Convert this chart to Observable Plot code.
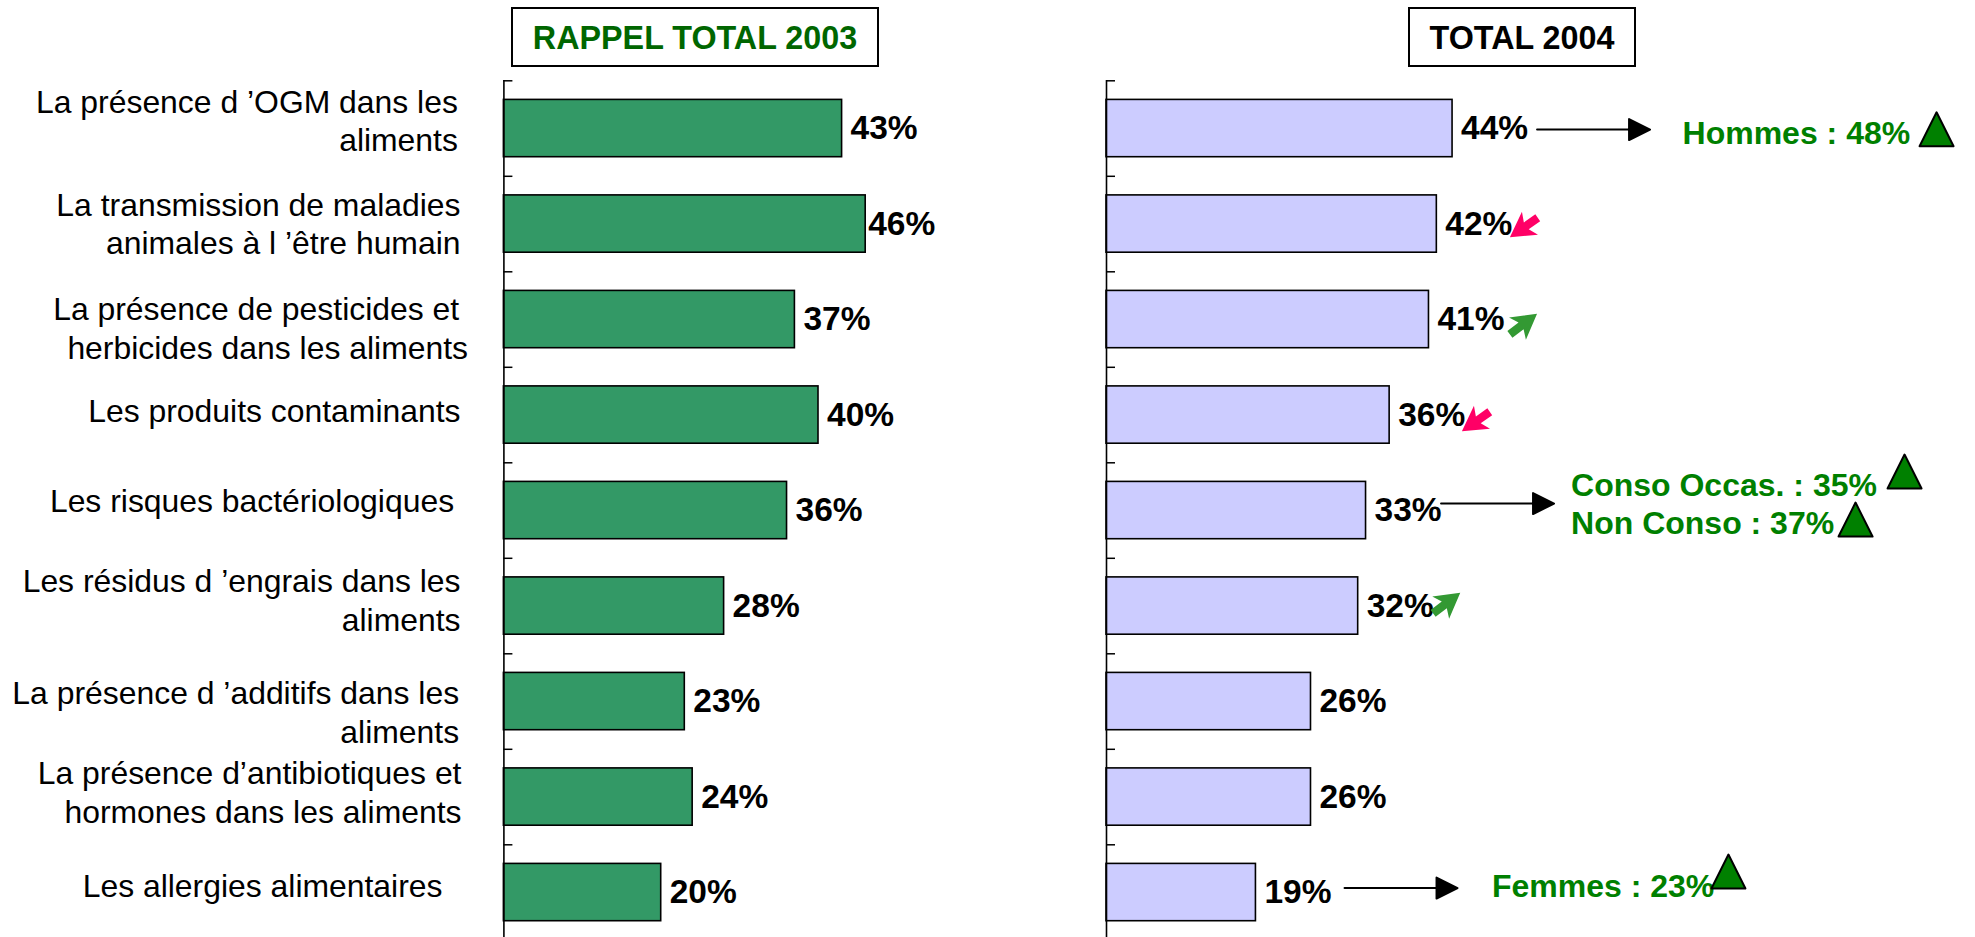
<!DOCTYPE html>
<html lang="fr">
<head>
<meta charset="utf-8">
<script src="https://cdn.jsdelivr.net/npm/d3@7"></script>
<script src="https://cdn.jsdelivr.net/npm/@observablehq/plot@0.6"></script>
<style>
html,body{margin:0;padding:0;background:#fff;overflow:hidden;width:1975px;height:937px}
#root{position:relative;width:1975px;height:937px;overflow:hidden;font-family:"Liberation Sans",Arial,sans-serif}
#left,#right{position:absolute;top:0}
#left{left:0}#right{left:987px}
svg{display:block;background:transparent}
.box{position:absolute;top:7px;height:60px;box-sizing:border-box;border:2px solid #000;background:#fff;
display:flex;align-items:center;justify-content:center;font-weight:bold;font-size:32.3px;padding-top:2px;z-index:2}
</style>
</head>
<body>
<div id="root"><div id="left"></div><div id="right"></div></div>
<script>
// ---- data ----
const categories = [
  "La présence d ’OGM dans les\naliments",
  "La transmission de maladies\nanimales à l ’être humain",
  "La présence de pesticides et\u00a0\nherbicides dans les aliments",
  "Les produits contaminants",
  "Les risques bactériologiques",
  "Les résidus d ’engrais dans les\naliments",
  "La présence d ’additifs dans les\naliments",
  "La présence d’antibiotiques et\nhormones dans les aliments",
  "Les allergies alimentaires"
];
const values2003 = [43, 46, 37, 40, 36, 28, 23, 24, 20];
const values2004 = [44, 42, 41, 36, 33, 32, 26, 26, 19];
const titles = ["RAPPEL TOTAL 2003", "TOTAL 2004"];
const calloutRows = [0, 4, 4, 8];
const calloutTexts = ["Hommes : 48%", "Conso Occas. : 35%", "Non Conso : 37%", "Femmes : 23%"];
const arrowRows = [0, 4, 8];
const trendRows = [1, 2, 3, 5];
const trendDirections = ["down", "up", "down", "up"];

// ---- layout, in pixels ----
const font = '"Liberation Sans",Arial,sans-serif';
const pxPerPoint = 7.865, axis2003 = 503.4, axis2004 = 119, panelW = [987, 988];
const yRange = [80.3, 939.8], step = (yRange[1] - yRange[0]) / 9;
const labelPos = [[-46,-9],[-43.4,-1.5],[-35.9,7.5],[-43.4,-5],[-49.8,-11],[-43.4,-7],[-44.8,9.5],[-42.4,-6.2],[-61.4,-7.5]];
const valueDx2003 = [8.5,2.5,8.5,8.5,8.5,8.5,8.5,8.5,8.5];
const calloutPos = [[230,5.25],[205,-25.25],[205,12.75],[236,-6]];
const triPos = [[484,0.75],[538.5,-39],[489.5,9],[472.5,-21]];
const arrowPos = [[84.5,1],[75,-7],[88.6,-4.5]];
const trendPos = [[87,3.5],[94.5,4.5],[86.2,6.5],[88.5,-3]];

// ---- custom vector shapes ----
const arrowShape = {draw(c, l){
  c.moveTo(0,0); c.lineTo(0,-l+21);
  c.moveTo(-10.5,-l+21); c.lineTo(0,-l); c.lineTo(10.5,-l+21); c.closePath();
}};
const triangleShape = {draw(c, l){
  c.moveTo(-l/2,0); c.lineTo(0,-l); c.lineTo(l/2,0); c.closePath();
}};
const trendShape = {draw(c, l){
  const m = l/2;
  c.moveTo(0,-l);
  c.lineTo(14,-m+7.5); c.lineTo(4.2,-m+3); c.lineTo(4.2,0); c.lineTo(-4.2,0);
  c.lineTo(-4.2,-m+3); c.lineTo(-14,-m+7.5); c.closePath();
}};

function panel(values, fill, range, width, showLabels, valueDx, extras){
  const rows = categories.map((c, i) => ({category: c, value: values[i], i}));
  const marks = [
    Plot.barX(rows, {x: "value", y: "category", fill, stroke: "#000", strokeWidth: 1.6}),
    Plot.ruleX([0], {stroke: "#000", strokeWidth: 1.6}),
    Plot.ruleY(categories, {y: d => d, x1: 0, x2: 9 / pxPerPoint, dy: -step / 2, stroke: "#000", strokeWidth: 1.5}),
    ...rows.map((r, i) => Plot.text([r], {
      x: "value", y: "category", text: d => d.value + "%", textAnchor: "start",
      dx: valueDx[i], fontSize: 33.5, fontWeight: "bold", fill: "#000"
    }))
  ];
  if (showLabels) rows.forEach((r, i) => marks.push(Plot.text([r], {
    x: 0, y: "category", text: "category", textAnchor: "end", lineHeight: 1.215,
    dx: labelPos[i][0], dy: labelPos[i][1], fontSize: 31.9, fill: "#000"
  })));
  return Plot.plot({
    width, height: 937, marginTop: 80, marginBottom: 0, marginLeft: 0, marginRight: 0,
    style: {fontFamily: font, background: "transparent", overflow: "hidden"},
    x: {axis: null, domain: [0, (range[1] - range[0]) / pxPerPoint], range},
    y: {axis: null, domain: categories, range: yRange, paddingInner: 0.4, paddingOuter: 0.2, round: false},
    marks: [...marks, ...(extras ? extras(rows) : [])]
  });
}

function annotations(rows){
  const out = [];
  arrowRows.forEach((ri, i) => out.push(Plot.vector([rows[ri]], {
    x: "value", y: "category", length: 113, rotate: 90, anchor: "start", shape: arrowShape,
    dx: arrowPos[i][0], dy: arrowPos[i][1], fill: "#000", stroke: "#000", strokeWidth: 2
  })));
  calloutRows.forEach((ri, i) => {
    out.push(Plot.text([rows[ri]], {
      x: "value", y: "category", text: () => calloutTexts[i], textAnchor: "start",
      dx: calloutPos[i][0], dy: calloutPos[i][1], fontSize: 32, fontWeight: "bold", fill: "#008000"
    }));
    out.push(Plot.vector([rows[ri]], {
      x: "value", y: "category", length: 34, rotate: 0, anchor: "middle", shape: triangleShape,
      dx: triPos[i][0], dy: triPos[i][1], fill: "#008000", stroke: "#000", strokeWidth: 2
    }));
  });
  trendRows.forEach((ri, i) => out.push(Plot.vector([rows[ri]], {
    x: "value", y: "category", length: 34, anchor: "middle", shape: trendShape,
    rotate: trendDirections[i] === "up" ? 53 : 235,
    dx: trendPos[i][0], dy: trendPos[i][1],
    fill: trendDirections[i] === "up" ? "#339933" : "#FF0066", stroke: "none"
  })));
  return out;
}

document.getElementById("left").append(
  panel(values2003, "#339966", [axis2003, panelW[0]], panelW[0], true, valueDx2003));
document.getElementById("right").append(
  panel(values2004, "#CCCCFF", [axis2004, panelW[1]], panelW[1], false, values2004.map(() => 8.5), annotations));

const root = document.getElementById("root");
[[titles[0], 511, 368, "#006600"], [titles[1], 1408, 228, "#000"]].forEach(([t, left, w, color]) => {
  const d = document.createElement("div");
  d.className = "box"; d.textContent = t;
  d.style.left = left + "px"; d.style.width = w + "px"; d.style.color = color;
  root.append(d);
});
</script>
</body>
</html>
